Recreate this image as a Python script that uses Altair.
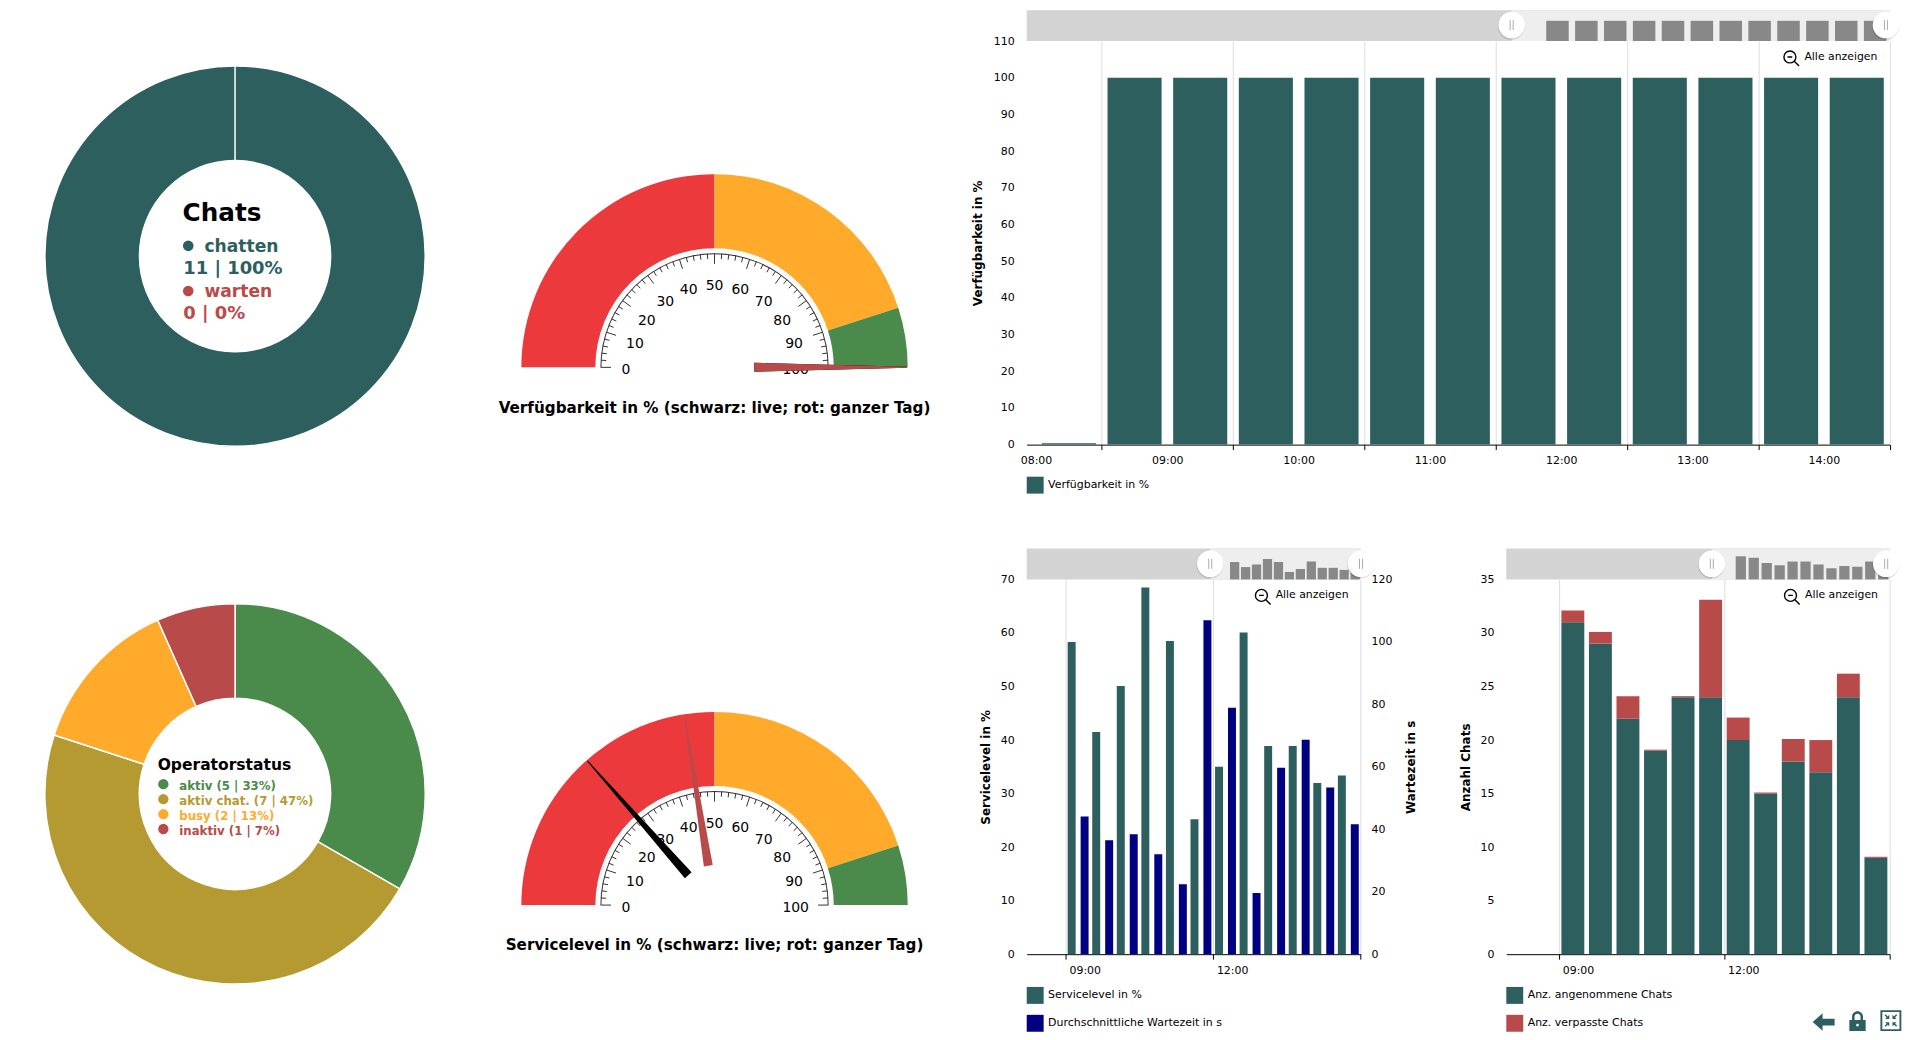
import math
import pandas as pd
import altair as alt

# ---- data ----
chat_labels = ["chatten", "warten"]
chat_values = [11, 0]
op_labels = ["aktiv", "aktiv chat.", "busy", "inaktiv"]
op_values = [5, 7, 2, 1]
gauge_bands = [(0, 50), (50, 90), (90, 100)]
gauge_minor = list(range(0, 101, 2))
gauge_major = list(range(0, 101, 10))
avail_live, avail_day = 100, 100
service_live, service_day = 27, 45

avail_slots = [8.0, 8.5, 9.0, 9.5, 10.0, 10.5, 11.0, 11.5, 12.0, 12.5, 13.0, 13.5, 14.0]
avail_vals = [0.4, 100, 100, 100, 100, 100, 100, 100, 100, 100, 100, 100, 100]

slots = [9.0, 9.5, 10.0, 10.5, 11.0, 11.5, 12.0, 12.5, 13.0, 13.5, 14.0, 14.5]
service_vals = [58.3, 41.5, 50.1, 68.5, 58.5, 25.2, 35.0, 60.1, 38.9, 38.9, 32.0, 33.4]
wait_vals = [44.1, 36.5, 38.4, 32.0, 22.4, 106.9, 78.9, 19.6, 59.7, 68.7, 53.4, 41.6]
accepted_vals = [31, 29, 22, 19, 24, 24, 20, 15, 18, 17, 24, 9]
missed_vals = [1.1, 1.1, 2.1, 0.1, 0.1, 9.1, 2.1, 0.1, 2.1, 3.0, 2.2, 0.1]

# ---- palette ----
TEAL = "#2d5f5f"
RED = "#b94a4a"
GREEN = "#4a8a4a"
OLIVE = "#b59a32"
ORANGE = "#ffaa2a"
GAUGE_RED = "#ec3a3c"
NAVY = "#000080"
GAUGE_COLORS = [GAUGE_RED, ORANGE, GREEN]
FONT = "DejaVu Sans"

# ---- canvas with the round charts (coordinates are page pixels) ----
CW, CH = 950, 985
sx = alt.Scale(domain=[8, 8 + CW], range=[0, CW], nice=False, zero=False)
sy = alt.Scale(domain=[39, 39 + CH], range=[0, CH], nice=False, zero=False)
PX = alt.X("x:Q", scale=sx, axis=None)
PY = alt.Y("y:Q", scale=sy, axis=None)


def donut(cx, cy, values, colors):
    total = sum(values)
    rows, acc = [], 0.0
    for v, c in zip(values, colors):
        rows.append(dict(x=cx, y=cy, t0=acc / total * 2 * math.pi, t1=(acc + v) / total * 2 * math.pi, c=c))
        acc += v
    return alt.Chart(pd.DataFrame(rows)).mark_arc(radius=191, radius2=96, stroke="white", strokeWidth=1.5).encode(
        x=PX, y=PY,
        theta=alt.Theta("t0:Q", scale=None), theta2=alt.Theta2("t1:Q"),
        color=alt.Color("c:N", scale=None),
    )


def texts(rows):
    layers = []
    for x, y, s, size, col in rows:
        layers.append(alt.Chart(pd.DataFrame([dict(x=x, y=y, s=s)])).mark_text(
            align="left", baseline="alphabetic", font=FONT, fontWeight="bold", fontSize=size, color=col
        ).encode(x=PX, y=PY, text="s:N"))
    return layers


def dots(rows, size):
    df = pd.DataFrame([dict(x=x, y=y, c=c) for x, y, c in rows])
    return alt.Chart(df).mark_circle(size=size, opacity=1).encode(x=PX, y=PY, color=alt.Color("c:N", scale=None))


def pol(cx, cy, v, r):
    a = (v / 100 - 0.5) * math.pi
    return cx + r * math.sin(a), cy - r * math.cos(a)


NEEDLE = "M-0.0026 -1L0.0026 -1L0.0233 -0.207L-0.0233 -0.207Z"
LABEL_NUDGE = {0: -5, 100: -2.5}


def gauge(cx, cy, title, live, day):
    layers = []
    df = pd.DataFrame([dict(x=cx, y=cy, t0=(a / 100 - .5) * math.pi, t1=(b / 100 - .5) * math.pi, c=c)
                       for (a, b), c in zip(gauge_bands, GAUGE_COLORS)])
    layers.append(alt.Chart(df).mark_arc(radius=194, radius2=119.7).encode(
        x=PX, y=PY, theta=alt.Theta("t0:Q", scale=None), theta2=alt.Theta2("t1:Q"),
        color=alt.Color("c:N", scale=None)))
    dfa = pd.DataFrame([dict(x=cx, y=cy, t0=-math.pi / 2, t1=math.pi / 2)])
    layers.append(alt.Chart(dfa).mark_arc(radius=114.6, radius2=113.6, color="#333333").encode(
        x=PX, y=PY, theta=alt.Theta("t0:Q", scale=None), theta2=alt.Theta2("t1:Q")))
    rows = []
    for v in gauge_minor:
        r2 = 104 if v in gauge_major else 109
        x1, y1 = pol(cx, cy, v, 114.3)
        x2, y2 = pol(cx, cy, v, r2)
        rows.append(dict(x=x1, y=y1, x2=x2, y2=y2))
    layers.append(alt.Chart(pd.DataFrame(rows)).mark_rule(color="#333333", strokeWidth=1).encode(
        x=PX, y=PY, x2="x2:Q", y2="y2:Q"))
    lab = []
    for v in gauge_major:
        lx, ly = pol(cx, cy, v, 84)
        lab.append(dict(x=lx + LABEL_NUDGE.get(v, 0), y=ly + 2.5, s=str(v)))
    layers.append(alt.Chart(pd.DataFrame(lab)).mark_text(font=FONT, fontSize=14, color="black", baseline="middle").encode(
        x=PX, y=PY, text="s:N"))
    for v, col in [(live, "black"), (day, RED)]:
        nd = pd.DataFrame([dict(x=cx, y=cy, a=(v * 1.8 - 90) % 360)])
        layers.append(alt.Chart(nd).mark_point(shape=NEEDLE, size=386 ** 2, filled=True, color=col, opacity=1).encode(
            x=PX, y=PY, angle=alt.Angle("a:Q", scale=None)))
    tdf = pd.DataFrame([dict(x=cx, y=cy + 45.5, s=title)])
    layers.append(alt.Chart(tdf).mark_text(font=FONT, fontWeight="bold", fontSize=15.26, color="black", baseline="alphabetic").encode(
        x=PX, y=PY, text="s:N"))
    return layers


chat_pct = [round(v / sum(chat_values) * 100) for v in chat_values]
op_pct = [round(v / sum(op_values) * 100) for v in op_values]
op_colors = [GREEN, OLIVE, ORANGE, RED]

canvas_layers = [donut(236, 255, chat_values, [TEAL, RED]), donut(236, 795, op_values, op_colors)]
canvas_layers += [dots([(189, 244.7, TEAL), (189, 290, RED)], 113)]
canvas_layers += texts([
    (183.3, 220, "Chats", 24.8, "black"),
    (205.3, 251, chat_labels[0], 17.2, TEAL),
    (184, 272.7, f"{chat_values[0]} | {chat_pct[0]}%", 18, TEAL),
    (205.3, 296, chat_labels[1], 17.2, RED),
    (184, 317.7, f"{chat_values[1]} | {chat_pct[1]}%", 18, RED),
    (158.3, 770.7, "Operatorstatus", 15.6, "black"),
])
canvas_layers += [dots([(164, 785.3 + 15 * i, c) for i, c in enumerate(op_colors)], 107)]
canvas_layers += texts([
    (180, 791 + 15 * i, f"{op_labels[i]} ({op_values[i]} | {op_pct[i]}%)", 11.8, op_colors[i]) for i in range(4)
])
canvas_layers += gauge(717.5, 366.7, "Verfügbarkeit in % (schwarz: live; rot: ganzer Tag)", avail_live, avail_day)
canvas_layers += gauge(717.5, 906.7, "Servicelevel in % (schwarz: live; rot: ganzer Tag)", service_live, service_day)
canvas = alt.layer(*canvas_layers).properties(width=CW, height=CH)

# ---- decorations of the bar panels ----
ONE = pd.DataFrame({"a": [0]})
ZOOM_ICON = "M-0.9 -0.15A0.75 0.75 0 1 1 0.6 -0.15A0.75 0.75 0 1 1 -0.9 -0.15ZM0.4 0.4L1 1M-0.45 -0.15L0.15 -0.15"


def rect(x, x2, y, y2, color):
    return alt.Chart(ONE).mark_rect(color=color).encode(
        x=alt.value(x), x2=alt.value(x2), y=alt.value(y), y2=alt.value(y2))


def handle(x, y):
    out = [
        alt.Chart(ONE).mark_point(filled=True, color="#000000", opacity=0.14, size=740, shape="circle").encode(
            x=alt.value(x - 0.3), y=alt.value(y + 1)),
        alt.Chart(ONE).mark_point(filled=True, color="#ffffff", opacity=1, size=707, shape="circle").encode(
            x=alt.value(x), y=alt.value(y)),
    ]
    for dx in (-1.5, 1.5):
        out.append(alt.Chart(ONE).mark_rule(color="#aaaaaa", strokeWidth=1).encode(
            x=alt.value(x + dx), y=alt.value(y - 5), y2=alt.value(y + 5)))
    return out


def zoom_label(ix, tx, y):
    return [
        alt.Chart(ONE).mark_point(shape=ZOOM_ICON, size=256, color="black", filled=False, strokeWidth=1.4, opacity=1).encode(
            x=alt.value(ix + 1.2), y=alt.value(y + 1.2)),
        alt.Chart(ONE).mark_text(text="Alle anzeigen", font=FONT, fontSize=10.9, align="left", baseline="middle", color="black").encode(
            x=alt.value(tx), y=alt.value(y)),
    ]


def nav_bars(hours, vals, width, x_dom, W, v_max, v_px, bar_size):
    df = pd.DataFrame({"h": hours, "v": vals})
    df["mid"] = df.h + 0.25
    return alt.Chart(df).mark_bar(size=bar_size, color="#888888", orient="vertical").encode(
        x=alt.X("mid:Q", scale=alt.Scale(domain=x_dom, range=[0, W], nice=False, zero=False, padding=0), axis=None),
        y=alt.Y("v:Q", scale=alt.Scale(domain=[0, v_max], range=[0, -v_px], nice=False, zero=False), axis=None),
    )


def hour_axis(values, label_expr, label_offset):
    return alt.Axis(values=values, labelExpr=label_expr, labelOffset=label_offset, grid=True, gridColor="#dddddd",
                    gridWidth=1, domainColor="black", tickColor="black", tickSize=5, labelPadding=5, labelColor="black",
                    title=None, labelOverlap=False, labelFlush=False, domainWidth=1)


HOUR_LABEL = "(datum.value<10?'0':'')+floor(datum.value)+':00'"
HOUR_LABEL2 = "datum.value>=15?'':(datum.value<10?'0':'')+floor(datum.value)+':00'"


def y_axis(values, title, title_x):
    return alt.Axis(values=values, title=title, domain=False, ticks=False, grid=False, labelPadding=12.5,
                    labelColor="black", titleX=title_x, titleBaseline="middle", titleColor="black")


legend = lambda y: alt.Legend(orient="none", legendX=0, legendY=y, title=None, symbolType="square", symbolSize=289,
                              symbolStrokeWidth=0, rowPadding=11, labelOffset=4.5, labelFontSize=11, labelColor="black",
                              padding=0, symbolOpacity=1, labelLimit=400)

# ---- availability panel ----
W1, H1 = 866.5, 405.3
x1 = alt.Scale(domain=[8.0 - 9.4 / 131.9, 14.5], range=[0, W1], nice=False, zero=False, padding=0)
df1 = pd.DataFrame({"h": avail_slots, "v": avail_vals})
df1["mid"] = df1.h + 0.25
df1["s"] = "Verfügbarkeit in %"
bars1 = alt.Chart(df1).mark_bar(size=54.3, orient="vertical").encode(
    x=alt.X("mid:Q", scale=x1, axis=hour_axis([8.5, 9.5, 10.5, 11.5, 12.5, 13.5, 14.5], HOUR_LABEL, -66)),
    y=alt.Y("v:Q", scale=alt.Scale(domain=[0, 110], nice=False),
            axis=y_axis(list(range(0, 111, 10)), "Verfügbarkeit in %", -49)),
    color=alt.Color("s:N", scale=alt.Scale(domain=["Verfügbarkeit in %"], range=[TEAL]), legend=legend(437.5)),
)
h1a, h1b = 487, 1892.8 - 1030
top = alt.layer(
    bars1,
    rect(0, W1, -31, 0, "#d3d3d3"),
    rect(h1a, W1, -31, 0, "#eeeeee"),
    nav_bars(avail_slots, avail_vals, W1, [14.5 - W1 / 58, 14.5], W1, 100, 20.3, 22.6),
    *handle(h1a, -16), *handle(h1b, -16),
    *zoom_label(1796.4 - 1030, 1811 - 1030, 16),
).resolve_scale(x="independent", y="independent").properties(width=W1, height=H1)

# ---- service level panel ----
W2, H2 = 335.3, 376.3
x2 = alt.Scale(domain=[9 - 39.3 / 49.33, 15], range=[0, W2], nice=False, zero=False, padding=0)
S2 = ["Servicelevel in %", "Durchschnittliche Wartezeit in s"]
df2 = pd.DataFrame({"mid": [h + 0.25 for h in slots], "sl": service_vals, "w": wait_vals, "s1": S2[0], "s2": S2[1]})
col2 = alt.Scale(domain=S2, range=[TEAL, NAVY])
xaxis2 = hour_axis([9, 12, 15], HOUR_LABEL2, 19)
b2a = alt.Chart(df2).mark_bar(size=8, xOffset=-6.5, orient="vertical").encode(
    x=alt.X("mid:Q", scale=x2, axis=xaxis2),
    y=alt.Y("sl:Q", scale=alt.Scale(domain=[0, 70], nice=False), axis=y_axis(list(range(0, 71, 10)), "Servicelevel in %", -41)),
    color=alt.Color("s1:N", scale=col2, legend=legend(409.2)),
)
b2b = alt.Chart(df2).mark_bar(size=8, xOffset=6.5, orient="vertical").encode(
    x=alt.X("mid:Q", scale=x2, axis=None),
    y=alt.Y("w:Q", scale=alt.Scale(domain=[0, 120], nice=False),
            axis=alt.Axis(orient="right", values=list(range(0, 121, 20)), title="Wartezeit in s", domain=False, ticks=False,
                          grid=False, labelPadding=10.4, labelColor="black", titleX=50, titleAngle=270,
                          titleBaseline="middle", titleColor="black")),
    color=alt.Color("s2:N", scale=col2, legend=legend(409.2)),
)
h2a, h2b = 1214.3 - 1030, 1365.7 - 1030
sl_panel = alt.layer(
    b2a, b2b,
    rect(0, W2, -31, 0, "#d3d3d3"),
    rect(h2a, W2, -31, 0, "#eeeeee"),
    nav_bars(slots, service_vals, W2, [15 - W2 / 22, 15], W2, 70, 21, 9.3),
    *handle(h2a, -15.7), *handle(h2b, -15.7),
    *zoom_label(1265.7 - 1030, 1280 - 1030, 16),
).resolve_scale(x="independent", y="independent").properties(width=W2, height=H2)

# ---- chats panel ----
W3, H3 = 385.0, 376.3
x3 = alt.Scale(domain=[9 - 53 / 55.33, 15], range=[0, W3], nice=False, zero=False, padding=0)
S3 = ["Anz. angenommene Chats", "Anz. verpasste Chats"]
df3 = pd.concat([
    pd.DataFrame({"mid": [h + 0.25 for h in slots], "v": accepted_vals, "s": S3[0], "o": 0}),
    pd.DataFrame({"mid": [h + 0.25 for h in slots], "v": missed_vals, "s": S3[1], "o": 1}),
])
b3 = alt.Chart(df3).mark_bar(size=23, orient="vertical").encode(
    x=alt.X("mid:Q", scale=x3, axis=hour_axis([9, 12, 15], HOUR_LABEL2, 19)),
    y=alt.Y("v:Q", stack="zero", scale=alt.Scale(domain=[0, 35], nice=False),
            axis=y_axis(list(range(0, 36, 5)), "Anzahl Chats", -41.3)),
    color=alt.Color("s:N", scale=alt.Scale(domain=S3, range=[TEAL, RED]), legend=legend(409.2)),
    order=alt.Order("o:Q", sort="ascending"),
)
h3a, h3b = 1717.7 - 1511.3, 1892.8 - 1511.3
ARROW = "M-1 0L-0.1 -0.8L-0.1 -0.3L1 -0.3L1 0.3L-0.1 0.3L-0.1 0.8Z"
LOCK = ("M-0.82 -0.1L0.82 -0.1L0.82 1L-0.82 1Z"
        "M-0.55 -0.1L-0.55 -0.45A0.55 0.55 0 0 1 0.55 -0.45L0.55 -0.1L0.3 -0.1L0.3 -0.45A0.3 0.3 0 0 0 -0.3 -0.45L-0.3 -0.1Z")
EXPAND = ("M-1 -1L1 -1L1 1L-1 1ZM-0.82 -0.82L-0.82 0.82L0.82 0.82L0.82 -0.82Z"
          "M-0.15 -0.15L-0.15 -0.55L-0.3 -0.4L-0.5 -0.6L-0.6 -0.5L-0.4 -0.3L-0.55 -0.15Z"
          "M0.15 -0.15L0.55 -0.15L0.4 -0.3L0.6 -0.5L0.5 -0.6L0.3 -0.4L0.15 -0.55Z"
          "M-0.15 0.15L-0.55 0.15L-0.4 0.3L-0.6 0.5L-0.5 0.6L-0.3 0.4L-0.15 0.55Z"
          "M0.15 0.15L0.15 0.55L0.3 0.4L0.5 0.6L0.6 0.5L0.4 0.3L0.55 0.15Z")


def icon(shape, cx, cy, size):
    return alt.Chart(ONE).mark_point(shape=shape, size=size, filled=True, color=TEAL, opacity=1).encode(
        x=alt.value(cx - 1511.3), y=alt.value(cy - 579))


chats_panel = alt.layer(
    b3,
    rect(0, W3, -31, 0, "#d3d3d3"),
    rect(h3a, W3, -31, 0, "#eeeeee"),
    nav_bars(slots, accepted_vals, W3, [15 - W3 / 26, 15], W3, 35, 26.25, 10.3),
    *handle(h3a, -15.7), *handle(h3b, -15.7),
    *zoom_label(1796.7 - 1511.3, 1811.3 - 1511.3, 16),
    icon(ARROW, 1830, 1023.5, 22 ** 2),
    icon(LOCK, 1864, 1022.5, 20 ** 2),
    icon(EXPAND, 1897.5, 1022, 21 ** 2),
    alt.Chart(ONE).mark_point(shape="square", size=6, filled=True, color="white", opacity=1).encode(
        x=alt.value(1864 - 1511.3), y=alt.value(1026.5 - 579)),
).resolve_scale(x="independent", y="independent").properties(width=W3, height=H3)

lower = alt.hconcat(sl_panel, chats_panel, spacing=41.6).resolve_scale(color="independent")
right = alt.vconcat(top, lower, spacing=54.7).resolve_scale(color="independent")
chart = alt.hconcat(canvas, right, spacing=18).resolve_scale(color="independent").properties(padding=0).configure_view(stroke=None).configure_axis(
    labelFont=FONT, titleFont=FONT, labelFontSize=11, titleFontSize=12, titleFontWeight="bold"
).configure_legend(labelFont=FONT, titleFont=FONT)

chart.save("out.html", embed_options={"renderer": "svg", "actions": False})
